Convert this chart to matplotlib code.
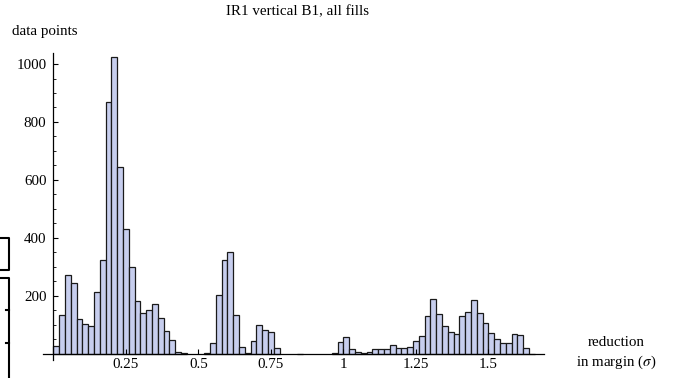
import numpy as np
import matplotlib
matplotlib.use("Agg")
import matplotlib.pyplot as plt
from matplotlib.lines import Line2D
from matplotlib.ticker import MultipleLocator, FixedLocator, FixedFormatter

plt.rcParams['font.family'] = ['Liberation Serif', 'DejaVu Serif']
plt.rcParams['mathtext.fontset'] = 'stix'

# histogram data: bins of width 0.02 starting at 0
bin_width = 0.02
counts = [
    29, 134, 271, 244, 120, 104, 95, 213, 325, 868,      # 0.00 - 0.18
    1023, 646, 432, 300, 183, 141, 153, 172, 124, 78,    # 0.20 - 0.38
    49, 7, 3, 0, 0, 0, 2, 38, 202, 323,                  # 0.40 - 0.58
    352, 133, 24, 2, 44, 99, 83, 75, 21, 0,              # 0.60 - 0.78
    0, 0, 1, 0, 0, 0, 0, 0, 3, 41,                       # 0.80 - 0.98
    57, 17, 5, 2, 8, 16, 18, 16, 30, 20,                 # 1.00 - 1.18
    22, 24, 44, 61, 132, 188, 137, 95, 75, 68,           # 1.20 - 1.38
    130, 146, 186, 142, 108, 71, 51, 37, 39, 68,         # 1.40 - 1.58
    64, 20, 1,                                           # 1.60 - 1.64
]
x_ticks = [0.25, 0.5, 0.75, 1.0, 1.25, 1.5]
x_labels = ["0.25", "0.5", "0.75", "1", "1.25", "1.5"]
y_ticks = [200, 400, 600, 800, 1000]

counts = np.array(counts)
left_edges = np.arange(len(counts)) * bin_width
keep = counts > 0

W, H = 679, 378
fs = 10.8
fig = plt.figure(figsize=(W / 100, H / 100), dpi=100)
ax = fig.add_axes([43.2 / W, 18 / H, (544 - 43.2) / W, (360 - 52.7) / H])

ax.bar(left_edges[keep], counts[keep], width=bin_width, align='edge',
       color='#C7CEEE', edgecolor='#1a1a1a', linewidth=0.9)

ax.set_xlim(-0.035, 1.692)
ax.set_ylim(-21, 1039)

for s in ['top', 'right']:
    ax.spines[s].set_visible(False)
ax.spines['left'].set_position(('data', 0))
ax.spines['bottom'].set_position(('data', 0))
for s in ['left', 'bottom']:
    ax.spines[s].set_linewidth(0.9)

ax.xaxis.set_major_locator(FixedLocator(x_ticks))
ax.xaxis.set_major_formatter(FixedFormatter(x_labels))
ax.yaxis.set_major_locator(FixedLocator(y_ticks))
ax.yaxis.set_minor_locator(MultipleLocator(50))

ax.tick_params(axis='both', which='major', direction='in', length=3.5,
               width=0.8, labelsize=fs)
ax.tick_params(axis='y', which='minor', direction='in', length=2,
               width=0.6)
ax.tick_params(axis='x', which='major', pad=3)
ax.tick_params(axis='y', which='major', pad=5)

fig.text(297 / W, 1 - 12 / H, "IR1 vertical B1, all fills", ha='center',
         va='center', fontsize=fs)
fig.text(12 / W, 1 - 31 / H, "data points", ha='left', va='center',
         fontsize=fs)
fig.text(616 / W, 1 - 343 / H, "reduction", ha='center', va='center',
         fontsize=fs)
fig.text(616 / W, 1 - 362 / H, r"in margin ($\sigma$)", ha='center',
         va='center', fontsize=fs)

# cut-off frames at the left edge of the picture
def px_line(xs, ys):
    fig.add_artist(Line2D([x / W for x in xs], [1 - y / H for y in ys],
                          transform=fig.transFigure, color='black', lw=1.5))

px_line([0, 9, 9, 0], [238, 238, 270, 270])
px_line([0, 9, 9], [278, 278, 378])
px_line([6, 9], [310, 310])
px_line([6, 9], [343, 343])

fig.savefig("out.png", dpi=100)
